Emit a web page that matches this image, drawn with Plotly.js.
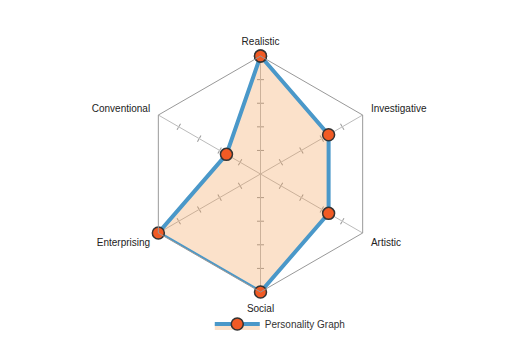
<!DOCTYPE html>
<html>
<head>
<meta charset="utf-8">
<script src="https://cdn.plot.ly/plotly-3.0.1.min.js"></script>
<style>html,body{margin:0;padding:0;background:#fff;}#chart{width:505px;height:364px;}</style>
</head>
<body>
<div id="chart"></div>
<script>
const categories = ["Realistic", "Investigative", "Artistic", "Social", "Enterprising", "Conventional"];
const scores = [15, 10, 10, 15, 15, 5];
const seriesName = "Personality Graph";
const radialMax = 15;
const tickValues = [3, 6, 9, 12];
const spokeAngles = [90, 30, -30, -90, -150, 150];

const domain = {x: [0.2822, 0.7495], y: [0.1978, 0.846]};
const traces = [];
const layout = {
  width: 505, height: 364,
  margin: {l: 0, r: 0, t: 0, b: 0},
  paper_bgcolor: "#fff",
  font: {family: "Liberation Sans, Arial, sans-serif", size: 10, color: "#333"},
  showlegend: true,
  legend: {orientation: "h", x: 0.555, xanchor: "center", y: 0.11, yanchor: "middle",
           itemwidth: 45,
           font: {size: 10, color: "#333"}, bgcolor: "rgba(0,0,0,0)"}
};

// tick-mark overlay subplots (one per spoke, both sides)
let idx = 1;
spokeAngles.forEach(function(a) {
  ["outside", "inside"].forEach(function(side) {
    const name = "polar" + (idx === 1 ? "" : idx);
    traces.push({type: "scatterpolar", r: [], theta: [], subplot: name, showlegend: false, hoverinfo: "skip"});
    layout[name] = {
      domain: domain,
      bgcolor: "rgba(0,0,0,0)",
      angularaxis: {visible: false},
      radialaxis: {range: [0, radialMax], angle: a, showline: false, showgrid: false,
                   showticklabels: false, ticks: side, ticklen: 3, tickwidth: 1,
                   tickcolor: "#999", tickvals: tickValues}
    };
    idx++;
  });
});

const mainName = "polar" + idx;
traces.push({
  type: "scatterpolar",
  subplot: mainName,
  name: seriesName,
  r: scores.concat([scores[0]]),
  theta: categories.concat([categories[0]]),
  mode: "lines+markers",
  fill: "toself",
  fillcolor: "rgba(242,155,80,0.3)",
  line: {color: "#4a98c9", width: 4},
  marker: {color: "#f15a24", size: 12, line: {color: "#333", width: 1.5}},
  hoverinfo: "skip"
});
layout[mainName] = {
  domain: domain,
  bgcolor: "rgba(0,0,0,0)",
  gridshape: "linear",
  radialaxis: {visible: false, range: [0, radialMax]},
  angularaxis: {
    type: "category",
    categoryarray: categories,
    rotation: 90,
    direction: "clockwise",
    showline: true, linecolor: "#999", linewidth: 1,
    showgrid: true, gridcolor: "#bbb", gridwidth: 1,
    ticks: "outside", ticklen: 7, tickcolor: "rgba(0,0,0,0)",
    tickfont: {size: 10, color: "#222"}
  }
};

Plotly.newPlot("chart", traces, layout, {displayModeBar: false, staticPlot: true});
</script>
</body>
</html>
